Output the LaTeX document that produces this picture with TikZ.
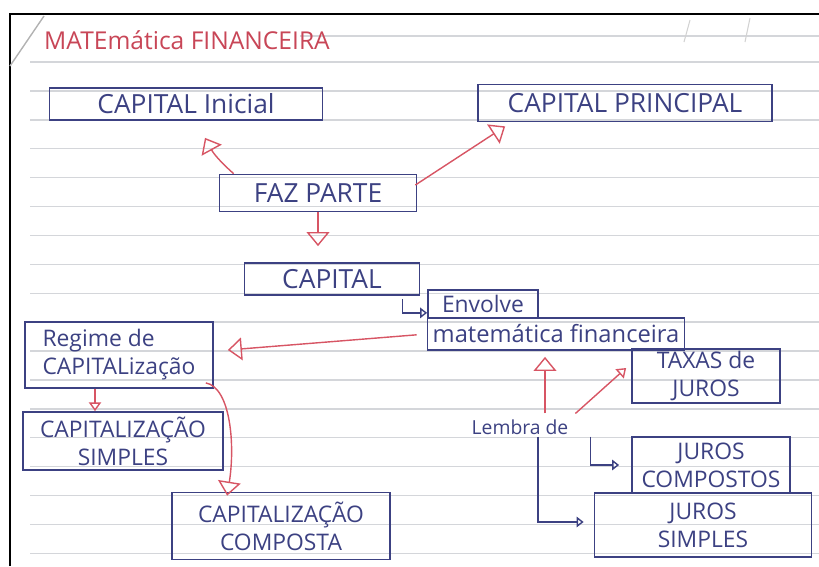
\documentclass[tikz,border=0pt]{standalone}
\usepackage{fontspec}
\setmainfont{Open Sans}
\usetikzlibrary{arrows.meta,calc}
\definecolor{ink}{HTML}{3C4182}
\definecolor{redink}{HTML}{D75564}
\definecolor{titlered}{HTML}{C84657}
\definecolor{rulegray}{HTML}{D4D6DA}

\begin{document}
\begin{tikzpicture}[x=0.02cm, y=-0.02cm,
  box/.style={draw=ink, line width=1pt, text=ink, inner sep=1pt, align=center,
    font=\fontsize{13}{16}\selectfont},
  bigtext/.style={font=\fontsize{15}{18}\selectfont},
  redarrow/.style={draw=redink, line width=0.8pt,
    -{Triangle[open, length=8pt, width=13pt, line width=0.8pt]}},
  redsmall/.style={draw=redink, line width=0.8pt,
    -{Triangle[open, length=5pt, width=7pt, line width=0.8pt]}},
  bluehook/.style={draw=ink, line width=0.8pt,
    -{Triangle[open, length=4pt, width=6pt, line width=0.8pt]}}]
  \useasboundingbox (0,0) rectangle (819,566);
  % ruled lines
  \foreach \k in {0,...,17}
    \draw[rulegray, line width=0.8pt] (30,62+28.9*\k) -- (819,62+28.9*\k);
  \draw[rulegray, line width=0.8pt] (300,36) -- (819,36);
  % frame and page corner
  \draw[black, line width=1.2pt] (10,566) -- (10,14) -- (819,14);
  \draw[gray!60, line width=0.8pt] (10,66) -- (44,16);
  \draw[gray!35, line width=0.6pt] (690,20) -- (684,42);
  \draw[gray!35, line width=0.6pt] (750,18) -- (745,42);
  % title
  \node[text=titlered, font=\fontsize{14}{17}\selectfont, anchor=west] (title) at (38,40) {MATEmática FINANCEIRA};
  % boxes
  \node[box, bigtext, minimum width=5.46cm, minimum height=0.64cm] (ini) at (186,104) {CAPITAL Inicial};
  \node[box, bigtext, minimum width=5.88cm, minimum height=0.74cm] (pri) at (625,103) {CAPITAL PRINCIPAL};
  \node[box, bigtext, minimum width=3.94cm, minimum height=0.74cm] (faz) at (318,193) {FAZ PARTE};
  \node[box, bigtext, minimum width=3.5cm, minimum height=0.64cm] (cap) at (332,279) {CAPITAL};
  \node[box, minimum width=2.2cm, minimum height=0.56cm] (env) at (483,304) {Envolve};
  \node[box, minimum width=5.14cm, minimum height=0.64cm, font=\fontsize{13.5}{16}\selectfont] (mat) at (556,334) {matemática financeira};
  \node[box, minimum width=3.76cm, minimum height=1.32cm, align=left] (reg) at (119,355) {Regime de\\CAPITALização};
  \node[box, minimum width=4.0cm, minimum height=1.16cm] (sim) at (123,441) {CAPITALIZAÇÃO\\SIMPLES};
  \node[box, minimum width=4.36cm, minimum height=1.34cm] (com) at (281,526) {CAPITALIZAÇÃO\\COMPOSTA};
  \node[box, minimum width=2.96cm, minimum height=0.94cm] (tax) at (706,376) {TAXAS de\\JUROS};
  \node[box, minimum width=3.16cm, minimum height=1.12cm] (jc) at (711,465) {JUROS\\COMPOSTOS};
  \node[box, minimum width=4.34cm, minimum height=1.28cm] (js) at (703,525) {JUROS\\SIMPLES};
  \node[text=ink, inner sep=1pt, font=\fontsize{11}{13}\selectfont] (lem) at (520,427) {Lembra de};
  % arrows
  \draw[redarrow] ($(faz.north west)+(15,0)$) to[bend left=10] ($(ini.south)+(19,17)$);
  \draw[redarrow] ($(faz.east)+(-2,-8)$) -- ($(pri.south west)+(28,4)$);
  \draw[redarrow, shorten >=0.32cm] (faz.south) -- (faz.south |- cap.north);
  \draw[bluehook] ($(cap.south east)+(-18,3)$) |- ($(env.south west)+(0,-6)$);
  \draw[redarrow, shorten <=0.2cm] (mat.west) -- ($(reg.east)+(14,-5)$);
  \draw[redsmall] ($(reg.south)+(-24,0)$) -- ($(sim.north)+(-28,0)$);
  \draw[redarrow] ($(reg.south east)+(-8,-6)$) .. controls +(25,5) and +(8,-50) .. ($(com.north west)+(56,4)$);
  \coordinate (lemup) at ($(lem.north)+(25,-4)$);
  \draw[redarrow, shorten >=0.12cm] (lemup) -- (lemup |- mat.south);
  \draw[redsmall] ($(lem.north east)+(5,-4)$) -- ($(tax.west)+(-5,-8)$);
  \draw[bluehook] ($(lem.south east)+(20,0)$) |- ($(jc.west)+(-12,0)$);
  \draw[bluehook] ($(lem.south)+(18,0)$) |- ($(js.west)+(-10,-3)$);
\end{tikzpicture}
\end{document}
